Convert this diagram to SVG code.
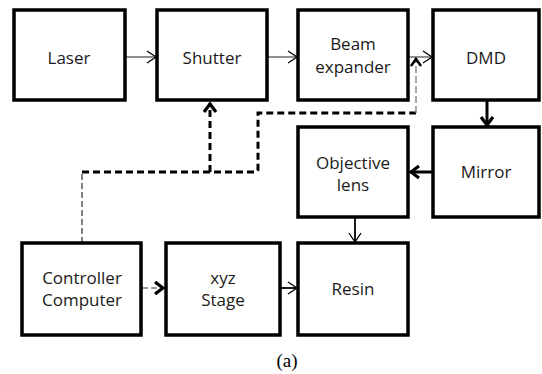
<svg xmlns="http://www.w3.org/2000/svg" width="542" height="374" viewBox="0 0 542 374">
<style>
.box{fill:#fff;stroke:#000;stroke-width:3.5}
.t{font-family:"Open Sans","Noto Sans",sans-serif;font-size:17px;fill:#1a1a1a;text-anchor:middle}
.thin{fill:none;stroke:#444;stroke-width:1.2}
.mid{fill:none;stroke:#000;stroke-width:1.8}
.thick{fill:none;stroke:#000;stroke-width:3}
.tdash{fill:none;stroke:#000;stroke-width:3;stroke-dasharray:7,4}
.ndash{fill:none;stroke:#333;stroke-width:1.2;stroke-dasharray:6,3}
.gdash{fill:none;stroke:#777;stroke-width:1.3;stroke-dasharray:7,3}
</style>
<defs>
<marker id="open" markerUnits="userSpaceOnUse" markerWidth="14" markerHeight="16" refX="10" refY="7" orient="auto">
<path d="M1,1 L10,7 L1,13" fill="none" stroke="#000" stroke-width="1.3"/>
</marker>
<marker id="bold" markerUnits="userSpaceOnUse" markerWidth="16" markerHeight="18" refX="11" refY="8" orient="auto">
<path d="M2,2 L10,8 L2,14" fill="none" stroke="#000" stroke-width="3.2"/>
</marker>
</defs>
<g id="connectors">
<line class="thin" x1="125" y1="57" x2="156" y2="57" marker-end="url(#open)"/>
<line class="thin" x1="267" y1="57" x2="297" y2="57" marker-end="url(#open)"/>
<line class="thin" x1="408" y1="57" x2="432" y2="57" marker-end="url(#open)"/>
<line class="thick" x1="487" y1="101" x2="487" y2="126" marker-end="url(#bold)"/>
<line class="thick" x1="433" y1="172" x2="410" y2="172" marker-end="url(#bold)"/>
<line class="mid" x1="355" y1="218" x2="355" y2="242" marker-end="url(#open)"/>
<line class="mid" x1="280" y1="288" x2="297" y2="288" marker-end="url(#open)"/>
<line class="ndash" x1="142" y1="288" x2="164" y2="288" marker-end="url(#bold)"/>
<path class="ndash" d="M82,243 V172"/>
<path class="tdash" d="M82,172 H255 Q258,172 258,169 V113 H416"/>
<path class="tdash" d="M210,172 V103" marker-end="url(#bold)"/>
<path class="gdash" d="M416,113 V60"/>
<path d="M411,66 L416,59 L421,66" fill="none" stroke="#000" stroke-width="2.5"/>
</g>
<g id="laser"><rect class="box" x="14" y="10" width="111" height="90"/><text class="t" x="69" y="64">Laser</text></g>
<g id="shutter"><rect class="box" x="157" y="10" width="110" height="90"/><text class="t" x="212" y="64">Shutter</text></g>
<g id="beam-expander"><rect class="box" x="298" y="10" width="110" height="90"/><text class="t" x="353" y="50">Beam</text><text class="t" x="353" y="73">expander</text></g>
<g id="dmd"><rect class="box" x="433" y="10" width="106" height="90"/><text class="t" x="486" y="64">DMD</text></g>
<g id="objective-lens"><rect class="box" x="298" y="127" width="110" height="90"/><text class="t" x="353" y="169">Objective</text><text class="t" x="353" y="191">lens</text></g>
<g id="mirror"><rect class="box" x="433" y="127" width="106" height="90"/><text class="t" x="486" y="178">Mirror</text></g>
<g id="controller"><rect class="box" x="22" y="243" width="119" height="92"/><text class="t" x="82" y="284">Controller</text><text class="t" x="82" y="306">Computer</text></g>
<g id="xyz-stage"><rect class="box" x="166" y="243" width="114" height="92"/><text class="t" x="223" y="284">xyz</text><text class="t" x="223" y="306">Stage</text></g>
<g id="resin"><rect class="box" x="298" y="243" width="110" height="92"/><text class="t" x="353" y="295">Resin</text></g>
<text x="287" y="367" font-family="'Liberation Serif',serif" font-size="19" text-anchor="middle" fill="#000">(a)</text>
</svg>
